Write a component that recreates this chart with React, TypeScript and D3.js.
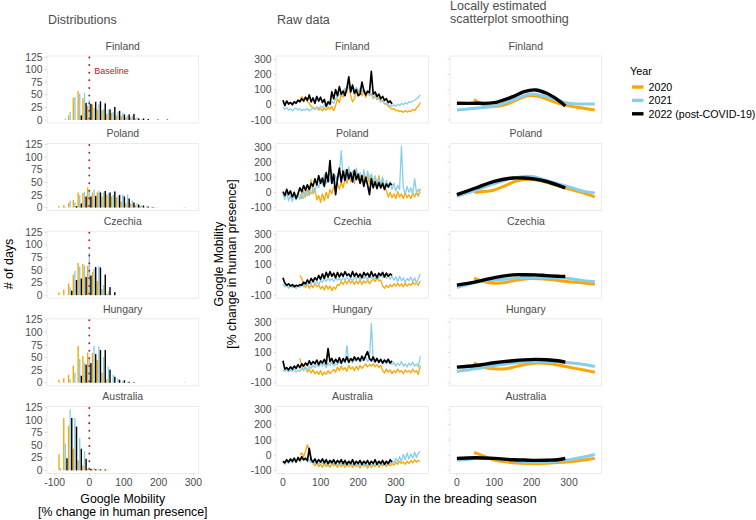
import { useEffect, useRef } from 'react'
import * as d3 from 'd3'

const W = 756, H = 520
const FONT = 'Liberation Sans, Arial, Helvetica, sans-serif'

const COUNTRIES = ['Finland', 'Poland', 'Czechia', 'Hungary', 'Australia']
const YEARS = ['2020', '2021', '2022 (post-COVID-19)']
const COLORS = ['#FFA500', '#87CEEB', '#000000']

// histogram bins are ~13.8 % wide, centred on k * 13.8; first entry is k = -7
const BIN_W = 13.8
const BIN_K0 = -7
const HIST_TICKS_Y = [0, 25, 50, 75, 100, 125]
const HIST_TICKS_X = [-100, 0, 100, 200, 300]

const FI_H20 = [0, 0, 0, 9, 44, 57, 43, 28, 31, 21, 19, 12, 14, 9, 8, 6, 5, 3]
const FI_H21 = [0, 0, 3, 16, 46, 52, 54, 40, 24, 31, 22, 21, 16, 16, 14, 9, 8, 5, 2]
const FI_H22 = [0, 0, 0, 0, 0, 9, 34, 32, 36, 37, 33, 21, 26, 18, 11, 11, 12, 3, 3, 2, 0, 1, 0, 1]
const PL_H20 = [0, 3, 5, 9, 15, 30, 29, 40, 30, 30, 22, 26, 22, 20, 12, 9, 8, 5, 3]
const PL_H21 = [0, 0, 2, 14, 10, 25, 31, 35, 36, 33, 30, 28, 25, 23, 26, 26, 14, 9, 5, 3, 2, 1, 0, 0, 0, 0, 0, 1]
const PL_H22 = [0, 0, 0, 0, 3, 8, 22, 22, 23, 30, 33, 30, 32, 25, 22, 18, 10, 6, 4, 2, 1]
const CZ_H20 = [0, 5, 11, 23, 41, 64, 62, 58, 46, 28, 12, 3]
const CZ_H21 = [0, 0, 0, 16, 48, 57, 59, 84, 53, 57, 20, 8]
const CZ_H22 = [0, 0, 0, 9, 30, 33, 36, 39, 56, 55, 41, 16, 6]
const HU_H20 = [0, 6, 9, 16, 34, 73, 53, 60, 59, 45, 20, 7]
const HU_H21 = [0, 0, 0, 7, 20, 47, 40, 49, 73, 72, 51, 32, 16, 9, 3, 2, 0, 0, 0, 0, 0, 0, 0, 0, 0, 0, 0, 1]
const HU_H22 = [0, 0, 0, 0, 0, 14, 36, 39, 57, 65, 65, 26, 12, 6, 5, 2, 1]
const AU_H20 = [1, 32, 104, 89, 43, 20, 10, 3, 2, 2, 1, 1]
const AU_H21 = [0, 5, 53, 121, 104, 64, 38, 5, 5, 2]
const AU_H22 = [0, 0, 24, 104, 87, 43, 23, 3, 2, 2, 2]

// raw daily mobility, read every 5 days; 2020 starts on day 45, 2021 and 2022 on day 0
const RAW_STEP = 5
const RAW_START = [45, 0, 0]
const RAW_TICKS_Y = [-100, 0, 100, 200, 300]
const DAY_TICKS = [0, 100, 200, 300]

const FI_R20 = [30, 55, 35, 45, 20, 10, -10, -20, -30, -15, -35, -25, -40, -20, -35, -15, -30, -10, -40, -5, 40, 15, 70, 50, 100, 80, 140, 60, 20, 40, 90, 70, 100, 60, 90, 50, 80, 60, 75, 40, 65, 35, 50, 20, 30, 5, 10, -10, -20, -30, -25, -40, -35, -45, -40, -50, -38, -48, -40, -45, -30, -38, -20, -10, 15]
const FI_R21 = [-15, -30, -20, -35, -25, -40, -30, -20, -35, -25, -40, -30, -35, -25, -40, -30, -20, -30, -15, -25, -10, -20, 0, -10, 5, 0, 20, 10, 40, 55, 70, 60, 95, 110, 100, 130, 105, 120, 95, 115, 90, 110, 85, 100, 75, 90, 65, 70, 50, 55, 35, 40, 20, 25, 10, 5, 0, -5, -10, 0, -10, 5, -5, 10, 0, 15, 5, 20, 15, 25, 30, 40, 50, 65]
const FI_R22 = [30, -5, 25, 5, 15, 0, 20, 10, 30, 20, 40, 25, 50, 30, 65, 20, 45, 10, 55, 25, 50, 15, 35, -10, 20, 5, 85, 40, 100, 60, 120, 70, 90, 60, 110, 185, 85, 130, 75, 100, 60, 70, 150, 95, 65, 90, 80, 220, 70, 85, 55, 70, 40, 55, 30, 40, 15, 25, 5]
const PL_R20 = [-10, -40, 10, -30, 20, -20, 85, -10, 30, -50, -20, -65, -10, -55, 0, -40, 20, -10, 40, 10, 60, 20, 70, 30, 90, 60, 120, 70, 110, 60, 130, 80, 120, 70, 125, 75, 110, 60, 120, 70, 100, 55, 110, 50, 90, 30, 10, -30, 0, -35, -10, -40, 5, -30, -10, -40, 0, -35, -15, -40, -5, -30, 0, -25, 25]
const PL_R21 = [-10, -45, 0, -55, -20, -60, -5, -50, -15, -45, 0, -40, 10, -20, 20, -10, 25, 0, 60, 30, 90, 50, 120, 60, 100, 70, 135, 60, 110, 75, 130, 275, 90, 150, 80, 170, 95, 140, 75, 160, 90, 130, 80, 150, 70, 140, 90, 120, 60, 110, 40, 95, 50, 100, 30, 80, 40, 70, 20, 60, 10, 45, 20, 305, 30, -10, 40, 0, 30, -15, 90, 0, 20, -10]
const PL_R22 = [5, -20, 20, -15, 10, -30, 0, -40, -10, 30, 5, 45, 15, 50, 20, 60, 40, 90, 50, 110, 60, 95, 40, 130, 70, 210, 60, 120, -15, 90, 160, 70, 140, 80, 150, 90, 130, 70, 145, 85, 120, 60, 110, 40, 100, 50, -15, 90, 30, 70, 25, 65, 30, 60, 20, 55, 35, 60, 50]
const CZ_R20 = [30, 10, -30, -50, -25, -55, -30, -50, -20, -45, -30, -60, -40, -65, -35, -60, -40, -70, -45, -60, -30, -35, -10, -30, -5, -25, 0, -20, -5, -30, -5, -25, 0, -30, -5, -20, 0, -25, -5, 5, -10, 10, -5, 0, -40, -55, -35, -50, -30, -45, -25, -40, -20, -40, -25, -45, -20, -40, -25, -35, -15, -30, -20, -35, -5]
const CZ_R21 = [-25, -45, -30, -55, -35, -50, -30, -55, -35, -50, -25, -45, -20, -35, -10, -30, -5, -25, -10, -30, -5, -15, 10, -10, 15, -5, 10, -10, 15, 0, 10, -5, 15, 0, 20, 0, 10, -5, 20, 5, 25, 0, 30, 10, 25, 0, 35, 10, 20, 5, 30, 10, 40, 15, 35, 10, 30, 5, 25, 0, 20, -10, 25, -5, 15, -15, 10, -5, 20, -10, 15, -20, 10, 40]
const CZ_R22 = [15, -20, -35, -25, -40, -30, -45, -35, -40, -30, -35, -15, -25, 0, -20, 10, -10, 15, 0, 30, 5, 40, 10, 50, 20, 55, 25, 45, 15, 50, 20, 45, 25, 55, 30, 40, 20, 55, 25, 45, 20, 40, 15, 50, 30, 45, 20, 55, 25, 40, 15, 45, 30, 50, 20, 45, 25, 40, 30]
const HU_R20 = [60, 10, -20, 5, -30, -10, -35, -15, -40, -25, -45, -20, -50, -30, -45, -20, -40, -25, -10, -30, 5, -20, 10, -15, 0, -25, 15, -10, 5, -20, 10, -15, 15, -5, 10, 25, 5, 20, 10, 25, 5, 20, 0, 15, -20, -35, -10, -30, -15, -40, -20, -35, -10, -30, -20, -40, -15, -30, -20, -35, -10, -30, -20, -45, 15]
const HU_R21 = [-15, -25, -10, -28, -15, -25, -10, -30, -15, -25, -5, -20, 0, -15, 10, -5, 15, 0, 20, 5, 30, 10, 25, 0, 30, 15, 35, 10, 25, 20, 40, 25, 50, 30, 145, 35, 60, 30, 55, 40, 65, 35, 50, 45, 70, 40, 60, 290, 45, 30, 55, 35, 50, 30, 45, 25, 40, 30, 20, 35, 10, 30, 15, 40, 10, 25, 5, 30, 15, 35, 10, 25, 5, 75]
const HU_R22 = [45, -10, 0, -15, 5, -10, 10, -5, 20, 0, 25, 10, 30, 15, 45, 20, 40, 25, 50, 20, 45, 30, 55, 25, 125, 40, 60, 30, 55, 35, 65, 30, 60, 40, 70, 35, 60, 45, 70, 50, 65, 45, 75, 50, 80, 105, 60, 45, 70, 40, 60, 35, 55, 30, 50, 35, 55, 30, 45]
const AU_R20 = [0, 15, -10, 25, 70, 20, -20, -55, -70, -50, -75, -60, -80, -55, -75, -60, -80, -55, -70, -60, -80, -55, -75, -60, -80, -65, -75, -55, -80, -60, -75, -60, -85, -60, -75, -65, -85, -60, -80, -65, -75, -55, -80, -60, -70, -55, -75, -60, -70, -55, -65, -45, -60, -40, -55, -45, -60, -40, -55, -35, -50, -30, -45, -35, -40]
const AU_R21 = [-45, -60, -40, -55, -35, -50, -30, -45, -25, -40, -20, -35, -25, -45, -30, -50, -35, -55, -40, -60, -45, -55, -40, -60, -45, -55, -40, -60, -50, -65, -50, -60, -45, -65, -50, -60, -45, -65, -50, -60, -55, -70, -50, -65, -55, -70, -50, -65, -55, -70, -50, -60, -45, -65, -50, -60, -45, -55, -40, -50, -20, -45, -10, -40, 5, -30, 15, -25, 10, -20, 20, -15, 15, 25]
const AU_R22 = [-40, -50, -30, -45, -25, -40, -20, -45, -15, -35, -10, -30, -20, -35, 45, -30, -45, -25, -50, -30, -45, -25, -50, -30, -55, -35, -50, -30, -55, -35, -50, -30, -55, -35, -60, -40, -55, -30, -60, -40, -55, -35, -60, -40, -55, -35, -60, -40, -55, -30, -60, -40, -55, -35, -60, -40, -55, -30, -45]

// loess curves at these days
const SM_DAYS = [
  [46, 60, 80, 100, 130, 160, 190, 220, 250, 280, 310, 340, 369],
  [0, 50, 100, 150, 200, 250, 300, 340, 369],
  [0, 50, 100, 150, 180, 210, 240, 270, 290],
]
const FI_S20 = [36, 12, -10, -12, 2, 32, 60, 55, 28, 5, -12, -23, -34]
const FI_S21 = [-34, -23, -8, 32, 72, 45, 10, 5, 5]
const FI_S22 = [10, 10, 14, 54, 87, 98, 76, 32, -8]
const PL_S20 = [1, 3, 7, 16, 45, 76, 86, 78, 58, 37, 15, -5, -30]
const PL_S21 = [-25, 14, 58, 95, 105, 70, 36, 7, -4]
const PL_S22 = [-15, 29, 73, 95, 95, 88, 72, 48, 29]
const CZ_S20 = [12, -2, -15, -21, -16, 0, 9, 9, 3, -6, -13, -20, -28]
const CZ_S21 = [-50, -16, 0, 10, 16, 16, 10, -4, -10]
const CZ_S22 = [-34, -12, 16, 34, 35, 34, 29, 25, 23]
const HU_S20 = [32, 12, -2, -8, -8, 8, 24, 30, 25, 12, -2, -16, -30]
const HU_S21 = [-25, -8, 14, 30, 40, 40, 32, 21, 7]
const HU_S22 = [3, 14, 32, 45, 51, 54, 52, 45, 36]
const AU_S20 = [18, 5, -14, -32, -44, -52, -55, -56, -52, -47, -41, -32, -21]
const AU_S21 = [-34, -21, -21, -37, -47, -43, -30, -12, 5]
const AU_S22 = [-21, -17, -21, -30, -32, -34, -33, -30, -21]

const HIST = [[FI_H20, FI_H21, FI_H22], [PL_H20, PL_H21, PL_H22], [CZ_H20, CZ_H21, CZ_H22], [HU_H20, HU_H21, HU_H22], [AU_H20, AU_H21, AU_H22]]
const RAW = [[FI_R20, FI_R21, FI_R22], [PL_R20, PL_R21, PL_R22], [CZ_R20, CZ_R21, CZ_R22], [HU_R20, HU_R21, HU_R22], [AU_R20, AU_R21, AU_R22]]
const SMOOTH = [[FI_S20, FI_S21, FI_S22], [PL_S20, PL_S21, PL_S22], [CZ_S20, CZ_S21, CZ_S22], [HU_S20, HU_S21, HU_S22], [AU_S20, AU_S21, AU_S22]]

// layout
const TOP0 = 56, PH = 67, GAP = 87.6
const HX: [number, number] = [47, 198.5]
const RX: [number, number] = [276, 428.7]
const SX: [number, number] = [450, 601.7]
const TXT = '#4d4d4d'

export default function App() {
  const svgRef = useRef<SVGSVGElement>(null)

  useEffect(() => {
    const svg = d3.select(svgRef.current!)
    svg.selectAll('*').remove()
    svg.append('rect').attr('width', W).attr('height', H).attr('fill', '#fff')

    const text = (x: number, y: number, s: string, size: number, fill = TXT, anchor = 'start') =>
      svg.append('text').attr('x', x).attr('y', y).attr('font-family', FONT).attr('font-size', size)
        .attr('fill', fill).attr('text-anchor', anchor).text(s)

    const vtext = (x: number, y: number, s: string, size: number) =>
      svg.append('text').attr('transform', `translate(${x},${y}) rotate(-90)`)
        .attr('text-anchor', 'middle').attr('font-family', FONT).attr('font-size', size).attr('fill', '#000')
        .text(s)

    // column titles
    text(48, 23.5, 'Distributions', 12.5)
    text(277, 23.5, 'Raw data', 12.5)
    text(450, 9.5, 'Locally estimated', 12.5)
    text(450, 23, 'scatterplot smoothing', 12.5)

    const last = COUNTRIES.length - 1
    const panelFrame = (x0: number, x1: number, top: number, name: string) => {
      svg.append('rect').attr('x', x0).attr('y', top).attr('width', x1 - x0).attr('height', PH)
        .attr('fill', '#fff').attr('stroke', '#e6e6e6').attr('stroke-width', 0.8)
      text((x0 + x1) / 2, top - 6.2, name, 10.5, TXT, 'middle')
    }
    const tickMark = (x1: number, x2: number, y1: number, y2: number) =>
      svg.append('line').attr('x1', x1).attr('x2', x2).attr('y1', y1).attr('y2', y2)
        .attr('stroke', '#c8c8c8').attr('stroke-width', 0.6)

    COUNTRIES.forEach((name, i) => {
      const top = TOP0 + i * GAP
      const bottom = top + PH

      // ---- histogram column
      panelFrame(HX[0], HX[1], top, name)
      const hx = d3.scaleLinear().domain([-122, 315]).range(HX)
      const hy = d3.scaleLinear().domain([-6, 127]).range([bottom, top])
      const g1 = svg.append('g')
      HIST[i].forEach((counts, j) => {
        counts.forEach((c, idx) => {
          if (!c) return
          const centre = (idx + BIN_K0) * BIN_W
          const left = centre - BIN_W / 2 + j * BIN_W / 3
          const bw = hx(left + BIN_W / 3) - hx(left)
          g1.append('rect')
            .attr('x', hx(left) + bw * 0.06).attr('width', bw * 0.88)
            .attr('y', hy(c)).attr('height', hy(0) - hy(c))
            .attr('fill', COLORS[j])
        })
      })
      svg.append('line').attr('x1', hx(0)).attr('x2', hx(0)).attr('y1', top + 1.5).attr('y2', bottom + 1)
        .attr('stroke', '#B22222').attr('stroke-width', 2).attr('stroke-linecap', 'round')
        .attr('stroke-dasharray', '0.01 7.6')
      if (i === 0) text(hx(0) + 5, top + 17.5, 'Baseline', 9, '#B22222')
      HIST_TICKS_Y.forEach(t => {
        tickMark(HX[0] - 2.5, HX[0], hy(t), hy(t))
        text(HX[0] - 4.5, hy(t) + 3.6, String(t), 10.4, TXT, 'end')
      })
      if (i === last) {
        HIST_TICKS_X.forEach(t => {
          tickMark(hx(t), hx(t), bottom, bottom + 2.5)
          text(hx(t), bottom + 12.8, String(t), 10.4, TXT, 'middle')
        })
      }

      // ---- raw data column
      panelFrame(RX[0], RX[1], top, name)
      const rx = d3.scaleLinear().domain([-18.45, 387.45]).range(RX)
      const ry = d3.scaleLinear().domain([-120, 322]).range([bottom, top])
      RAW[i].forEach((vals, j) => {
        const line = d3.line<number>()
          .x((_, k) => rx(RAW_START[j] + k * RAW_STEP))
          .y(v => ry(v))
        svg.append('path').datum(vals).attr('d', line)
          .attr('fill', 'none').attr('stroke', COLORS[j])
          .attr('stroke-width', j === 2 ? 1.7 : 1.3).attr('stroke-linejoin', 'round')
      })
      RAW_TICKS_Y.forEach(t => {
        tickMark(RX[0] - 2.5, RX[0], ry(t), ry(t))
        text(RX[0] - 4.5, ry(t) + 3.6, String(t), 10.4, TXT, 'end')
      })

      // ---- smoothing column
      panelFrame(SX[0], SX[1], top, name)
      const sx = d3.scaleLinear().domain([-18.45, 387.45]).range(SX)
      SMOOTH[i].forEach((vals, j) => {
        const days = SM_DAYS[j]
        const line = d3.line<number>()
          .x((_, k) => sx(days[k]))
          .y(v => ry(v))
          .curve(d3.curveCatmullRom.alpha(0.5))
        svg.append('path').datum(vals).attr('d', line)
          .attr('fill', 'none').attr('stroke', COLORS[j])
          .attr('stroke-width', j === 2 ? 3.4 : 3)
      })
      RAW_TICKS_Y.forEach(t => tickMark(SX[0] - 2.5, SX[0], ry(t), ry(t)))

      if (i === last) {
        DAY_TICKS.forEach(t => {
          ;[rx, sx].forEach(sc => {
            tickMark(sc(t), sc(t), bottom, bottom + 2.5)
            text(sc(t), bottom + 12.8, String(t), 10.4, TXT, 'middle')
          })
        })
      }
    })

    // axis titles
    text((HX[0] + HX[1]) / 2, 502.5, 'Google Mobility', 12.3, '#000', 'middle')
    text((HX[0] + HX[1]) / 2, 516, '[% change in human presence]', 12.3, '#000', 'middle')
    text(460.5, 502.5, 'Day in the breading season', 12.5, '#000', 'middle')
    vtext(12.5, 264, '# of days', 12.5)
    vtext(222.5, 264, 'Google Mobility', 12.3)
    vtext(236, 264, '[% change in human presence]', 12.3)

    // legend
    text(630, 74.5, 'Year', 10.8, '#000')
    YEARS.forEach((label, j) => {
      const cy = 87 + j * 13.4
      svg.append('line').attr('x1', 632).attr('x2', 643.5).attr('y1', cy).attr('y2', cy)
        .attr('stroke', COLORS[j]).attr('stroke-width', 3.4)
      text(648.5, cy + 3.8, label, 10.7, '#000')
    })
  }, [])

  return <svg ref={svgRef} width={W} height={H} style={{ position: 'absolute', left: 0, top: 0 }} />
}
